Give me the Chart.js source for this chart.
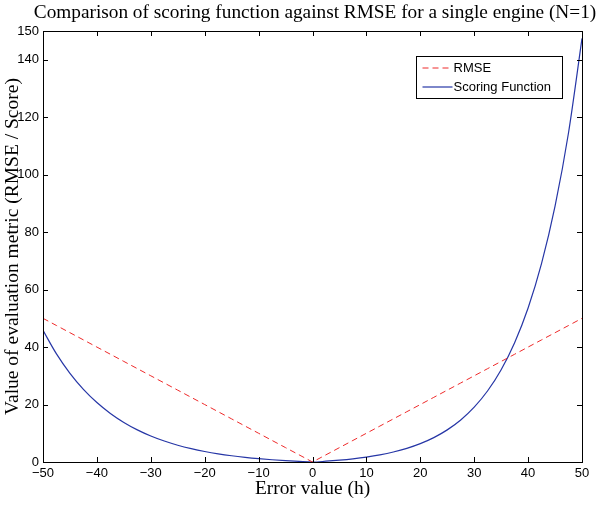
<!DOCTYPE html>
<html>
<head>
<meta charset="utf-8">
<script src="https://cdn.jsdelivr.net/npm/chart.js@4/dist/chart.umd.min.js"></script>
<style>
html,body{margin:0;padding:0;background:#fff;}
#wrap{width:597px;height:505px;}
</style>
</head>
<body>
<div id="wrap"><canvas id="c" width="597" height="505"></canvas></div>
<script>
const chartTitle = 'Comparison of scoring function against RMSE for a single engine (N=1)';
const xAxisTitle = 'Error value (h)';
const yAxisTitle = 'Value of evaluation metric (RMSE / Score)';
const xTicks = [-50,-40,-30,-20,-10,0,10,20,30,40,50];
const yTicks = [0,20,40,60,80,100,120,140,150];
const errorValues = [-50,-47.5,-45,-42.5,-40,-37.5,-35,-32.5,-30,-27.5,-25,-22.5,-20,-17.5,-15,-12.5,-10,-7.5,-5,-2.5,0,2.5,5,7.5,10,12.5,15,17.5,20,22.5,25,27.5,30,32.5,35,37.5,40,42.5,45,47.5,50];
const rmseValues = [50,47.5,45,42.5,40,37.5,35,32.5,30,27.5,25,22.5,20,17.5,15,12.5,10,7.5,5,2.5,0,2.5,5,7.5,10,12.5,15,17.5,20,22.5,25,27.5,30,32.5,35,37.5,40,42.5,45,47.5,50];
const scoreValues = [45.81,37.62,30.86,25.29,20.69,16.90,13.77,11.18,9.05,7.29,5.84,4.65,3.66,2.84,2.17,1.62,1.16,0.78,0.47,0.21,0,0.28,0.65,1.12,1.72,2.49,3.48,4.75,6.39,8.49,11.18,14.64,19.09,24.79,32.12,41.52,53.60,69.11,89.02,114.58,147.41];

const toXY = (xs, ys) => xs.map((x,i)=>({x:x, y:ys[i]}));

const frameAndTicks = {
  id:'frameAndTicks',
  afterDatasetsDraw(chart){
    const {ctx, chartArea:a, scales:{x,y}} = chart;
    ctx.save();
    ctx.strokeStyle = '#000';
    ctx.lineWidth = 1;
    ctx.beginPath();
    const L = 5;
    xTicks.forEach(v=>{
      const px = Math.round(x.getPixelForValue(v))+0.5;
      ctx.moveTo(px, a.bottom); ctx.lineTo(px, a.bottom-L);
      ctx.moveTo(px, a.top); ctx.lineTo(px, a.top+L);
    });
    yTicks.forEach(v=>{
      const py = Math.round(y.getPixelForValue(v))+0.5;
      ctx.moveTo(a.left, py); ctx.lineTo(a.left+L, py);
      ctx.moveTo(a.right, py); ctx.lineTo(a.right-L, py);
    });
    ctx.stroke();
    ctx.strokeRect(Math.round(a.left)+0.5, Math.round(a.top)+0.5, Math.round(a.right-a.left), Math.round(a.bottom-a.top));
    // legend
    const bx = 416.5, by = 56.5, bw = 146, bh = 42;
    ctx.fillStyle = '#fff';
    ctx.fillRect(bx, by, bw, bh);
    ctx.strokeRect(bx, by, bw, bh);
    ctx.font = '13px "Liberation Sans", Arial, sans-serif';
    ctx.textBaseline = 'middle';
    ctx.textAlign = 'left';
    chart.data.datasets.forEach((ds,i)=>{
      const ly = by + 11.5 + i*19;
      ctx.beginPath();
      ctx.strokeStyle = ds.borderColor;
      ctx.lineWidth = ds.borderWidth;
      ctx.setLineDash(ds.borderDash || []);
      ctx.moveTo(bx+6, ly); ctx.lineTo(bx+36, ly);
      ctx.stroke();
      ctx.setLineDash([]);
      ctx.fillStyle = '#000';
      ctx.fillText(ds.label, bx+37, ly+0.5);
    });
    ctx.restore();
  },
  afterDraw(chart){
    const ctx = chart.ctx;
    ctx.save();
    ctx.font = '19.3px "Liberation Serif", "Times New Roman", serif';
    ctx.fillStyle = '#000';
    ctx.textAlign = 'center';
    ctx.textBaseline = 'middle';
    ctx.fillText(chartTitle, 315, 13);
    ctx.restore();
  }
};

new Chart(document.getElementById('c'), {
  type:'line',
  data:{
    datasets:[
      {label:'RMSE', data:toXY(errorValues, rmseValues), borderColor:'#ee2a2a', borderWidth:1, borderDash:[6,4], pointRadius:0, fill:false, tension:0},
      {label:'Scoring Function', data:toXY(errorValues, scoreValues), borderColor:'#2636a6', borderWidth:1.2, pointRadius:0, fill:false, cubicInterpolationMode:'monotone'}
    ]
  },
  options:{
    responsive:false,
    animation:false,
    devicePixelRatio:1,
    layout:{padding:{left:0,right:15,top:31,bottom:4}},
    plugins:{legend:{display:false}, title:{display:false}, tooltip:{enabled:false}},
    scales:{
      x:{
        type:'linear', min:-50, max:50,
        afterBuildTicks: s => { s.ticks = xTicks.map(v=>({value:v})); },
        afterFit: s => { s.height = 39; },
        grid:{display:false, drawTicks:false},
        border:{display:false},
        ticks:{padding:4, color:'#000', font:{family:'"Liberation Sans", Arial, sans-serif', size:13}, maxRotation:0, autoSkip:false,
          callback: v => String(v).replace('-', '\u2212')},
        title:{display:true, text:xAxisTitle, color:'#000', font:{family:'"Liberation Serif", "Times New Roman", serif', size:19.4}, padding:{top:0,bottom:0}}
      },
      y:{
        type:'linear', min:0, max:150,
        afterBuildTicks: s => { s.ticks = yTicks.map(v=>({value:v})); },
        afterFit: s => { s.width = 43; },
        grid:{display:false, drawTicks:false},
        border:{display:false},
        ticks:{padding:4, color:'#000', font:{family:'"Liberation Sans", Arial, sans-serif', size:13}, autoSkip:false},
        title:{display:true, text:yAxisTitle, color:'#000', font:{family:'"Liberation Serif", "Times New Roman", serif', size:19.5}, padding:{top:1,bottom:0}}
      }
    }
  },
  plugins:[frameAndTicks]
});
</script>
</body>
</html>
